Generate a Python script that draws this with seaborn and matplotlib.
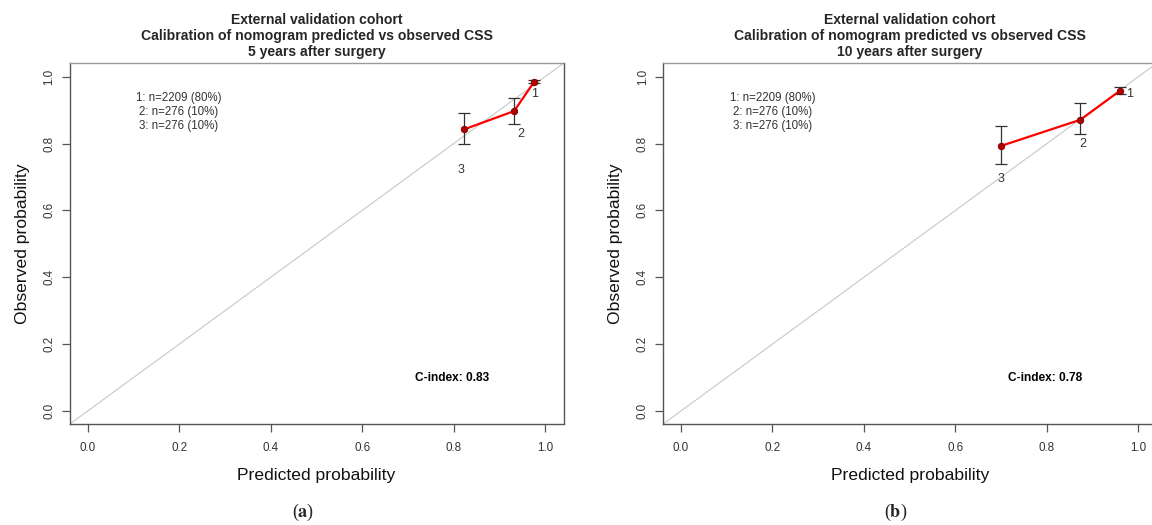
import matplotlib
matplotlib.use("Agg")
import matplotlib.pyplot as plt
import seaborn as sns
import pandas as pd
import numpy as np

# ---------------- data ----------------
groups = ["1", "2", "3"]
group_text = ["1: n=2209 (80%)", "2: n=276 (10%)", "3: n=276 (10%)"]

pred_5y = [0.976, 0.932, 0.823]
obs_5y = [0.985, 0.897, 0.8425]
lo_5y = [0.980, 0.858, 0.799]
hi_5y = [0.990, 0.937, 0.892]
cindex_5y = "C-index: 0.83"

pred_10y = [0.960, 0.873, 0.700]
obs_10y = [0.958, 0.871, 0.793]
lo_10y = [0.947, 0.8275, 0.740]
hi_10y = [0.970, 0.922, 0.851]
cindex_10y = "C-index: 0.78"

titles = [
    "External validation cohort\nCalibration of nomogram predicted vs observed CSS\n5 years after surgery",
    "External validation cohort\nCalibration of nomogram predicted vs observed CSS\n10 years after surgery",
]
ticks = [0.0, 0.2, 0.4, 0.6, 0.8, 1.0]
tick_labels = ["0.0", "0.2", "0.4", "0.6", "0.8", "1.0"]
panel_tags = ["a", "b"]

sns.set_style("white")
plt.rcParams["font.family"] = ["Liberation Sans", "DejaVu Sans"]
plt.rcParams["mathtext.fontset"] = "stix"

fig = plt.figure(figsize=(11.52, 5.25), dpi=100)
W, H = 1152, 525
axes = [
    fig.add_axes([69.5 / W, 1 - 424.3 / H, 494 / W, 361 / H]),
    fig.add_axes([662.7 / W, 1 - 424.3 / H, 494 / W, 361 / H]),
]

panels = [
    (pred_5y, obs_5y, lo_5y, hi_5y, cindex_5y,
     [(0, -12), (7, -23), (-3, -41)]),
    (pred_10y, obs_10y, lo_10y, hi_10y, cindex_10y,
     [(9, -3), (2, -24), (0, -33)]),
]

grey_txt = "#333333"
for i, (ax, (pred, obs, lo, hi, cidx, offs)) in enumerate(zip(axes, panels)):
    df = pd.DataFrame({"pred": pred, "obs": obs, "group": groups})
    # diagonal reference
    ax.plot([-0.1, 1.1], [-0.1, 1.1], color="#c8c8c8", lw=0.8, zorder=1)
    # error bars
    obs_a = np.array(obs)
    ax.errorbar(pred, obs, yerr=[obs_a - np.array(lo), np.array(hi) - obs_a],
                fmt="none", ecolor="#333333", elinewidth=0.9, capsize=4,
                capthick=0.9, zorder=2)
    sns.lineplot(data=df, x="pred", y="obs", ax=ax, color="#ff0000", lw=1.6,
                 sort=False, estimator=None, zorder=3)
    sns.scatterplot(data=df, x="pred", y="obs", ax=ax, color="#b00000",
                    edgecolor="#7a0000", s=22, linewidth=0.6, zorder=4)
    for g, x, y, off in zip(groups, pred, obs, offs):
        ax.annotate(g, (x, y), xytext=off, textcoords="offset pixels",
                    ha="center", va="center", fontsize=9, color=grey_txt)
    # group legend text
    for k, t in enumerate(group_text):
        ax.text(0.198 if i == 0 else 0.2, 0.937 - k * 0.0425, t, ha="center",
                va="center", fontsize=8.3, color=grey_txt)
    ax.text(0.797, 0.10, cidx, ha="center", va="center", fontsize=8.6,
            fontweight="bold", color="black")

    ax.set_xlim(-0.04, 1.04)
    ax.set_ylim(-0.04, 1.04)
    ax.set_xticks(ticks)
    ax.set_xticklabels(tick_labels)
    ax.set_yticks(ticks)
    ax.set_yticklabels(tick_labels, rotation=90, va="center")
    ax.tick_params(axis="both", direction="out", length=6, width=0.9,
                   color="#555555", labelsize=8.4, labelcolor=grey_txt,
                   left=True, bottom=True)
    ax.tick_params(axis="x", pad=7)
    ax.tick_params(axis="y", pad=4)
    for s in ax.spines.values():
        s.set_color("#555555")
        s.set_linewidth(1.0)
    ax.spines["top"].set_color("#999999")
    ax.set_xlabel("Predicted probability", fontsize=12.6, color="#111111",
                  labelpad=10)
    ax.set_ylabel("Observed probability", fontsize=12.6, color="#111111",
                  labelpad=10)
    ax.set_title(titles[i], fontsize=10.1, fontweight="bold", linespacing=1.2,
                 pad=5)

fig.text(303 / W, 1 - 512 / H, r"($\mathbf{" + panel_tags[0] + r"}$)",
         ha="center", va="center", fontsize=13, family="Liberation Serif")
fig.text(896 / W, 1 - 512 / H, r"($\mathbf{" + panel_tags[1] + r"}$)",
         ha="center", va="center", fontsize=13, family="Liberation Serif")

fig.savefig("out.png", dpi=100)
